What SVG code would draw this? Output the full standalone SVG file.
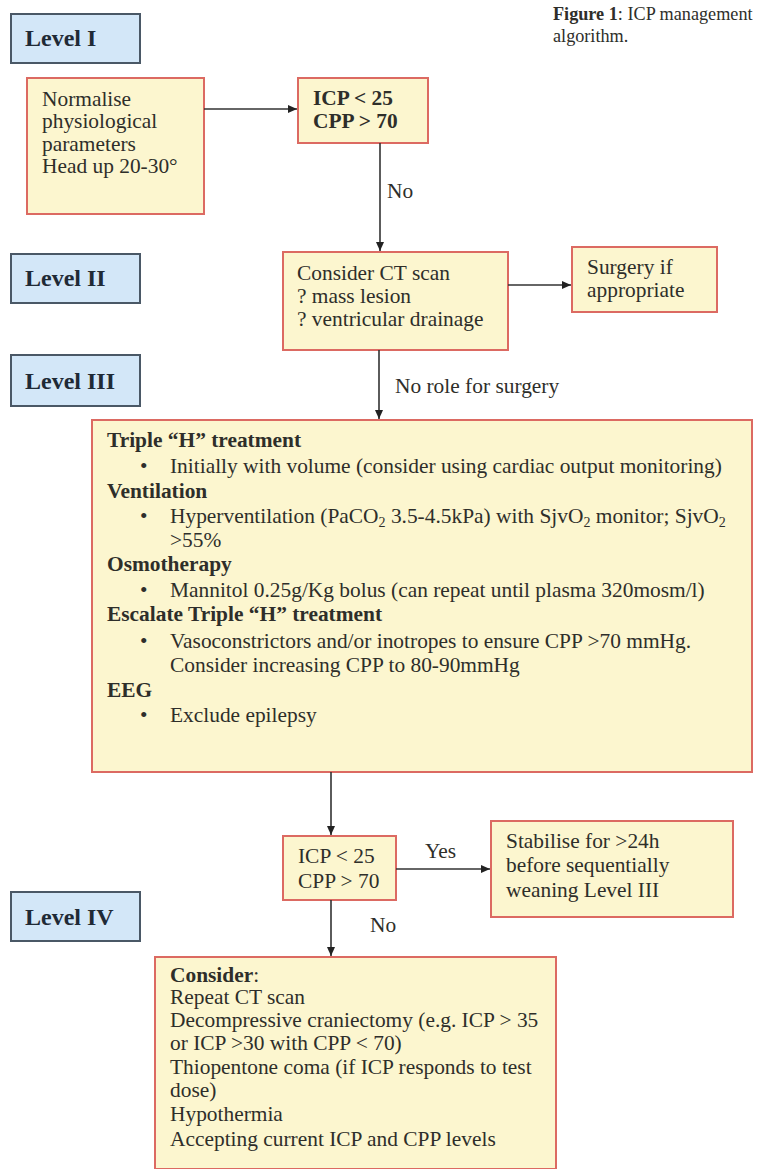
<svg xmlns="http://www.w3.org/2000/svg" width="757" height="1169" viewBox="0 0 757 1169">
<style>
.lvl{fill:#d3e7f8;stroke:#4a5866;stroke-width:2}
.box{fill:#fcf6cf;stroke:#dc6a62;stroke-width:2}
text{font-family:"Liberation Serif","Times New Roman",serif;fill:#2e2e2a}
.lt{font-size:24px;font-weight:bold;fill:#1f2a36}
.t{font-size:21.4px}
.b{font-weight:bold}
.cap{font-size:18.2px}
.con{stroke:#333;stroke-width:1.6;fill:none;marker-end:url(#ah)}
</style>
<defs>
<marker id="ah" markerWidth="10" markerHeight="10" refX="9" refY="5" orient="auto" markerUnits="userSpaceOnUse">
<path d="M0,1 L9,5 L0,9 Z" fill="#222"/>
</marker>
</defs>
<rect width="757" height="1169" fill="#fff"/>

<g id="caption">
<text class="cap" x="553" y="20"><tspan class="b">Figure 1</tspan>: ICP management</text>
<text class="cap" x="553" y="42">algorithm.</text>
</g>

<g id="level1"><rect class="lvl" x="11" y="14" width="129" height="49"/><text class="lt" x="25" y="46">Level I</text></g>
<g id="level2"><rect class="lvl" x="11" y="254" width="129" height="49"/><text class="lt" x="25" y="286">Level II</text></g>
<g id="level3"><rect class="lvl" x="11" y="355" width="129" height="51"/><text class="lt" x="25" y="389">Level III</text></g>
<g id="level4"><rect class="lvl" x="11" y="892" width="129" height="49"/><text class="lt" x="25" y="925">Level IV</text></g>

<g id="normalise">
<rect class="box" x="27" y="78" width="177" height="136"/>
<text class="t" x="42" y="106">Normalise</text>
<text class="t" x="42" y="128">physiological</text>
<text class="t" x="42" y="151">parameters</text>
<text class="t" x="42" y="173">Head up 20-30°</text>
</g>

<g id="icp1">
<rect class="box" x="298" y="78" width="130" height="65"/>
<text class="t b" x="313" y="105">ICP &lt; 25</text>
<text class="t b" x="313" y="128">CPP &gt; 70</text>
</g>

<g id="ct">
<rect class="box" x="283" y="252" width="225" height="98"/>
<text class="t" x="297" y="280">Consider CT scan</text>
<text class="t" x="297" y="303">? mass lesion</text>
<text class="t" x="297" y="326">? ventricular drainage</text>
</g>

<g id="surgery">
<rect class="box" x="572" y="247" width="145" height="65"/>
<text class="t" x="587" y="274">Surgery if</text>
<text class="t" x="587" y="297">appropriate</text>
</g>

<g id="level3box">
<rect class="box" x="92" y="420" width="660" height="352"/>
<text class="t b" x="107" y="447">Triple “H” treatment</text>
<text class="t" x="140" y="473">•</text>
<text class="t" x="170" y="473">Initially with volume (consider using cardiac output monitoring)</text>
<text class="t b" x="107" y="498">Ventilation</text>
<text class="t" x="140" y="523">•</text>
<text class="t" x="170" y="523">Hyperventilation (PaCO<tspan font-size="14" dy="4">2</tspan><tspan dy="-4"> 3.5-4.5kPa) with SjvO</tspan><tspan font-size="14" dy="4">2</tspan><tspan dy="-4"> monitor; SjvO</tspan><tspan font-size="14" dy="4">2</tspan></text>
<text class="t" x="170" y="547">&gt;55%</text>
<text class="t b" x="107" y="571">Osmotherapy</text>
<text class="t" x="140" y="597">•</text>
<text class="t" x="170" y="597">Mannitol 0.25g/Kg bolus (can repeat until plasma 320mosm/l)</text>
<text class="t b" x="107" y="621">Escalate Triple “H” treatment</text>
<text class="t" x="140" y="648">•</text>
<text class="t" x="170" y="648">Vasoconstrictors and/or inotropes to ensure CPP &gt;70 mmHg.</text>
<text class="t" x="170" y="672">Consider increasing CPP to 80-90mmHg</text>
<text class="t b" x="107" y="697">EEG</text>
<text class="t" x="140" y="722">•</text>
<text class="t" x="170" y="722">Exclude epilepsy</text>
</g>

<g id="icp2">
<rect class="box" x="283" y="836" width="113" height="64"/>
<text class="t" x="298" y="863">ICP &lt; 25</text>
<text class="t" x="298" y="888">CPP &gt; 70</text>
</g>

<g id="stabilise">
<rect class="box" x="491" y="821" width="242" height="96"/>
<text class="t" x="506" y="848">Stabilise for &gt;24h</text>
<text class="t" x="506" y="872">before sequentially</text>
<text class="t" x="506" y="897">weaning Level III</text>
</g>

<g id="level4box">
<rect class="box" x="155" y="957" width="401" height="212"/>
<text class="t" x="170" y="982"><tspan class="b">Consider</tspan>:</text>
<text class="t" x="170" y="1004">Repeat CT scan</text>
<text class="t" x="170" y="1027">Decompressive craniectomy (e.g. ICP &gt; 35</text>
<text class="t" x="170" y="1050">or ICP &gt;30 with CPP &lt; 70)</text>
<text class="t" x="170" y="1074">Thiopentone coma (if ICP responds to test</text>
<text class="t" x="170" y="1097">dose)</text>
<text class="t" x="170" y="1121">Hypothermia</text>
<text class="t" x="170" y="1146">Accepting current ICP and CPP levels</text>
</g>

<g id="connectors">
<path class="con" d="M204,109 H297"/>
<path class="con" d="M380,143 V251"/>
<path class="con" d="M508,285 H571"/>
<path class="con" d="M379,350 V419"/>
<path class="con" d="M331,772 V835"/>
<path class="con" d="M396,869 H490"/>
<path class="con" d="M331,900 V956"/>
<text class="t" x="387" y="198">No</text>
<text class="t" x="395" y="393">No role for surgery</text>
<text class="t" x="425" y="858">Yes</text>
<text class="t" x="370" y="932">No</text>
</g>
</svg>
